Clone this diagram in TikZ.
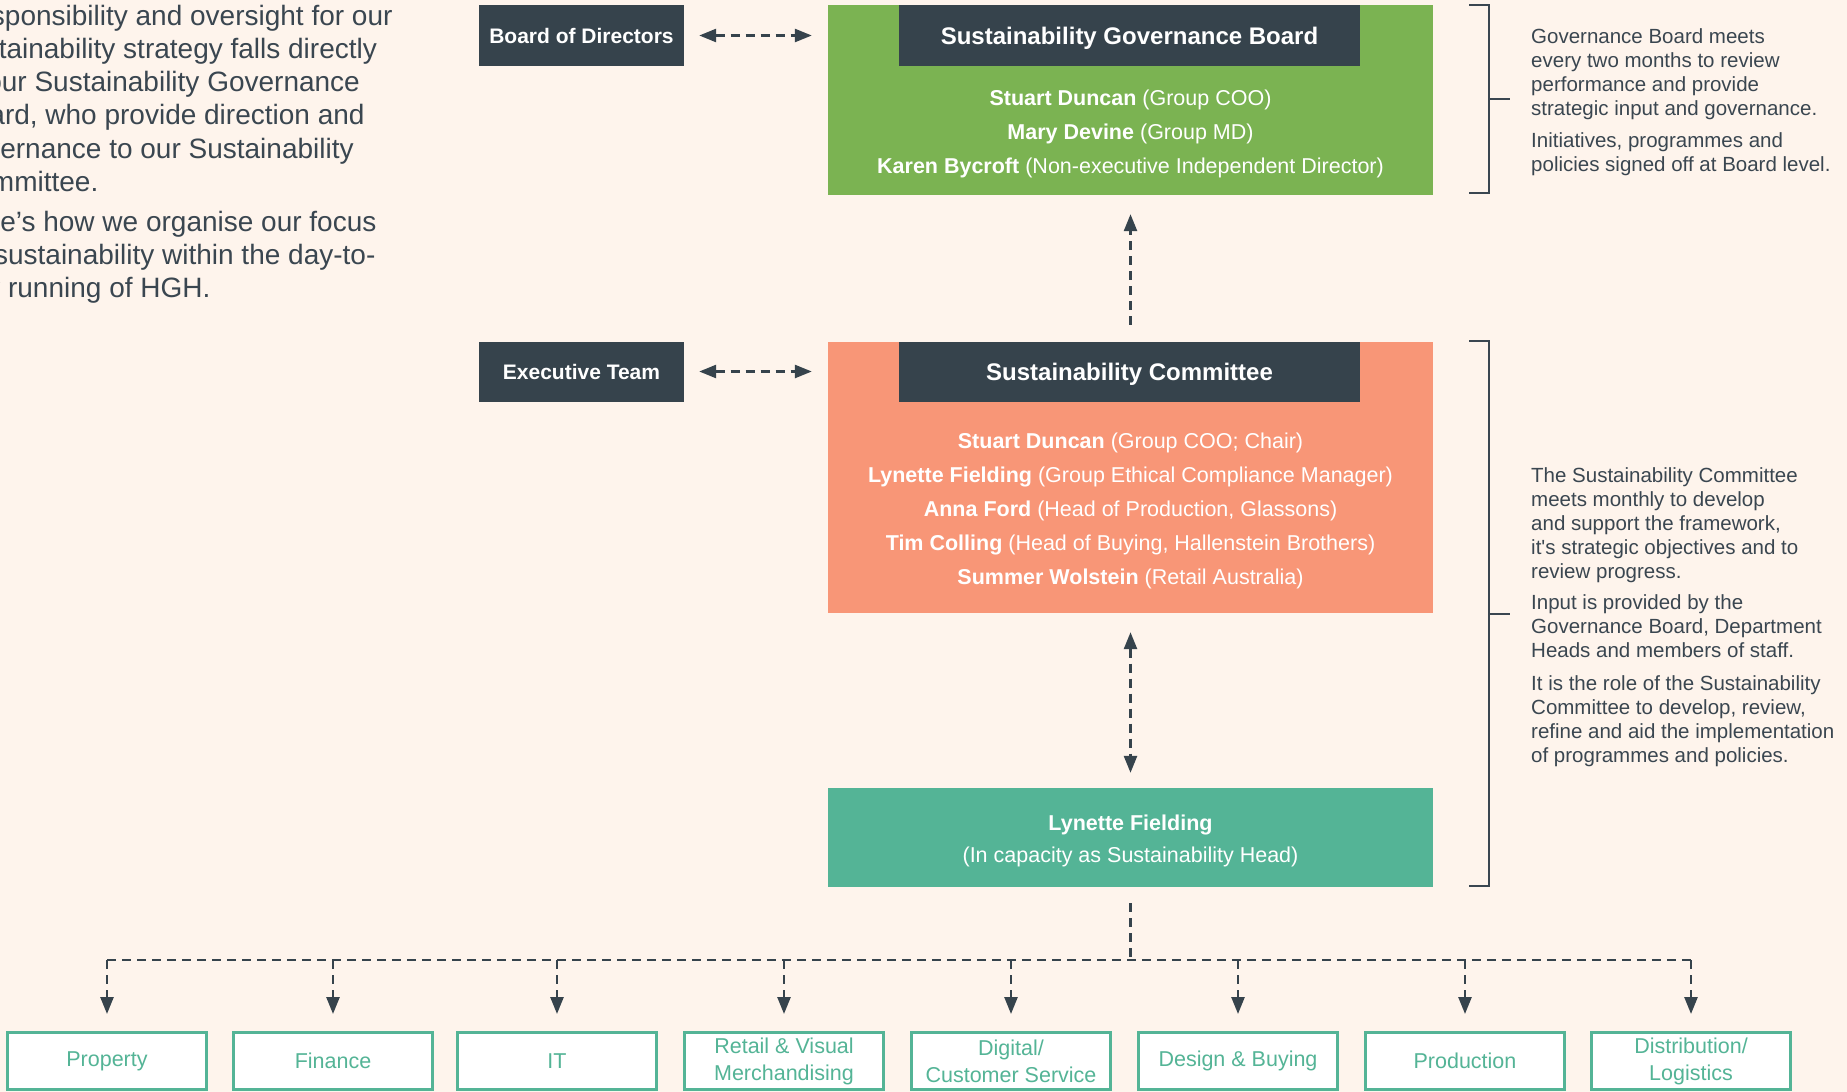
\documentclass[tikz,border=0pt]{standalone}
\usepackage{fontspec}
\setmainfont{Liberation Sans}
\usetikzlibrary{arrows.meta}
\definecolor{bg}{HTML}{FEF4EC}
\definecolor{slate}{HTML}{36434C}
\definecolor{ink}{HTML}{3A4650}
\definecolor{leaf}{HTML}{7BB352}
\definecolor{coral}{HTML}{F89677}
\definecolor{sea}{HTML}{54B496}
\begin{document}
% multi-line text nodes are placed by the baseline of their last line
\begin{tikzpicture}[x=1pt,y=-1pt,
  >={Triangle[length=17pt,width=13pt]},
  darkbox/.style={fill=slate,text=white,inner sep=0pt,minimum width=205pt,minimum height=61pt,
    text height=15pt,text depth=0pt,font=\fontsize{21}{25}\selectfont\bfseries},
  headbox/.style={fill=slate,text=white,inner sep=0pt,minimum width=461pt,minimum height=61pt,
    text height=17pt,text depth=0pt,font=\fontsize{24}{28}\selectfont\bfseries},
  panel/.style={inner sep=0pt,minimum width=605pt},
  roster/.style={anchor=base,align=center,text=white,inner sep=0pt,
    font=\fontsize{21.5}{34}\selectfont},
  link/.style={draw=slate,line width=2.6pt,dash pattern=on 9pt off 6pt},
  brace/.style={draw=ink,line width=2pt},
  dept/.style={draw=sea,line width=3pt,fill=white,text=sea,inner sep=0pt,
    minimum width=199pt,minimum height=57pt,align=center,
    font=\fontsize{21.5}{27}\selectfont},
  note/.style={anchor=base west,align=left,text=ink,inner sep=0pt,
    font=\fontsize{20.5}{24}\selectfont},
  intro/.style={anchor=base west,align=left,text=ink,inner sep=0pt,
    font=\fontsize{28}{33.3}\selectfont}]

% page
\fill[bg] (0,0) rectangle (1847,1092);
\useasboundingbox (0,0) rectangle (1847,1092);

% introduction, running off the left edge
\begin{scope}
\clip (0,0) rectangle (1847,1092);
\node[intro] (introA) at (-45,191.5) {Responsibility and oversight for our\\sustainability strategy falls directly\\to our Sustainability Governance\\Board, who provide direction and\\governance to our Sustainability\\Committee.};
\node[intro] (introB) at (-45,297.6) {Here’s how we organise our focus\\on sustainability within the day-to-\\day running of HGH.};
\end{scope}

% governance board
\node[panel,fill=leaf,minimum height=190pt] (gov) at (1130.5,100) {};
\node[headbox] (govhead) at (1129.5,35.5) {Sustainability Governance Board};
\node[roster] (govnames) at (1130.5,173) {\textbf{Stuart Duncan} (Group COO)\\\textbf{Mary Devine} (Group MD)\\\textbf{Karen Bycroft} (Non-executive Independent Director)};
\node[darkbox] (bod) at (581.5,35.5) {Board of Directors};

% committee
\node[panel,fill=coral,minimum height=271pt] (com) at (1130.5,477.5) {};
\node[headbox,minimum height=60pt] (comhead) at (1129.5,372) {Sustainability Committee};
\node[roster] (comnames) at (1130.5,584) {\textbf{Stuart Duncan} (Group COO; Chair)\\\textbf{Lynette Fielding} (Group Ethical Compliance Manager)\\\textbf{Anna Ford} (Head of Production, Glassons)\\\textbf{Tim Colling} (Head of Buying, Hallenstein Brothers)\\\textbf{Summer Wolstein} (Retail Australia)};
\node[darkbox,minimum height=60pt] (exec) at (581.5,371.5) {Executive Team};

% sustainability head
\node[panel,fill=sea,minimum height=99pt] (head) at (1130.5,837.5) {};
\node[roster,font=\fontsize{21.5}{32}\selectfont] (headname) at (1130.5,862) {\textbf{Lynette Fielding}\\(In capacity as Sustainability Head)};

% departments
\node[dept] (p1) at (107,1061) {Property};
\node[dept] (p2) at (333,1061) {Finance};
\node[dept] (p3) at (557,1061) {IT};
\node[dept] (p4) at (784,1061) {Retail \& Visual\\Merchandising};
\node[dept] (p5) at (1011,1061) {Digital/\\Customer Service};
\node[dept] (p6) at (1238,1061) {Design \& Buying};
\node[dept] (p7) at (1465,1061) {Production};
\node[dept] (p8) at (1691,1061) {Distribution/\\Logistics};

% connectors
\draw[link,<->,shorten <=15pt,shorten >=16pt] (bod.east) -- (bod.east -| gov.west);
\draw[link,<->,shorten <=15pt,shorten >=16pt] (exec.east) -- (exec.east -| com.west);
\draw[link,->,shorten <=17pt,shorten >=19pt] (com.north) -- (gov.south);
\draw[link,<->,shorten <=19pt,shorten >=15pt] (com.south) -- (head.north);

\coordinate (hub) at (1130.5,960);
\draw[link,shorten <=16pt] (head.south) -- (hub);
\draw[link] (hub -| p1) -- (hub -| p8);
\foreach \d in {p1,p2,p3,p4,p5,p6,p7,p8}
  \draw[link,->,shorten >=17pt] (hub -| \d) -- (\d.north);

% brackets with notes
\draw[brace] ([xshift=36pt]gov.north east) -- ([xshift=56pt]gov.north east)
  -- ([xshift=56pt,yshift=2pt]gov.south east) -- ([xshift=36pt,yshift=2pt]gov.south east);
\draw[brace] ([xshift=56pt,yshift=1pt]gov.east) -- ([xshift=77pt,yshift=1pt]gov.east);
\node[note] (govnoteA) at (1531,115) {Governance Board meets\\every two months to review\\performance and provide\\strategic input and governance.};
\node[note] (govnoteB) at (1531,171) {Initiatives, programmes and\\policies signed off at Board level.};

\draw[brace] ([xshift=36pt,yshift=1pt]com.north east) -- ([xshift=56pt,yshift=1pt]com.north east)
  -- ([xshift=56pt,yshift=1pt]head.south east) -- ([xshift=36pt,yshift=1pt]head.south east);
\draw[brace] (1489,614) -- (1510,614);
\node[note] (comnoteA) at (1531,578) {The Sustainability Committee\\meets monthly to develop\\and support the framework,\\it\textquotesingle s strategic objectives and to\\review progress.};
\node[note] (comnoteB) at (1531,657) {Input is provided by the\\Governance Board, Department\\Heads and members of staff.};
\node[note] (comnoteC) at (1531,762) {It is the role of the Sustainability\\Committee to develop, review,\\refine and aid the implementation\\of programmes and policies.};
\end{tikzpicture}
\end{document}
